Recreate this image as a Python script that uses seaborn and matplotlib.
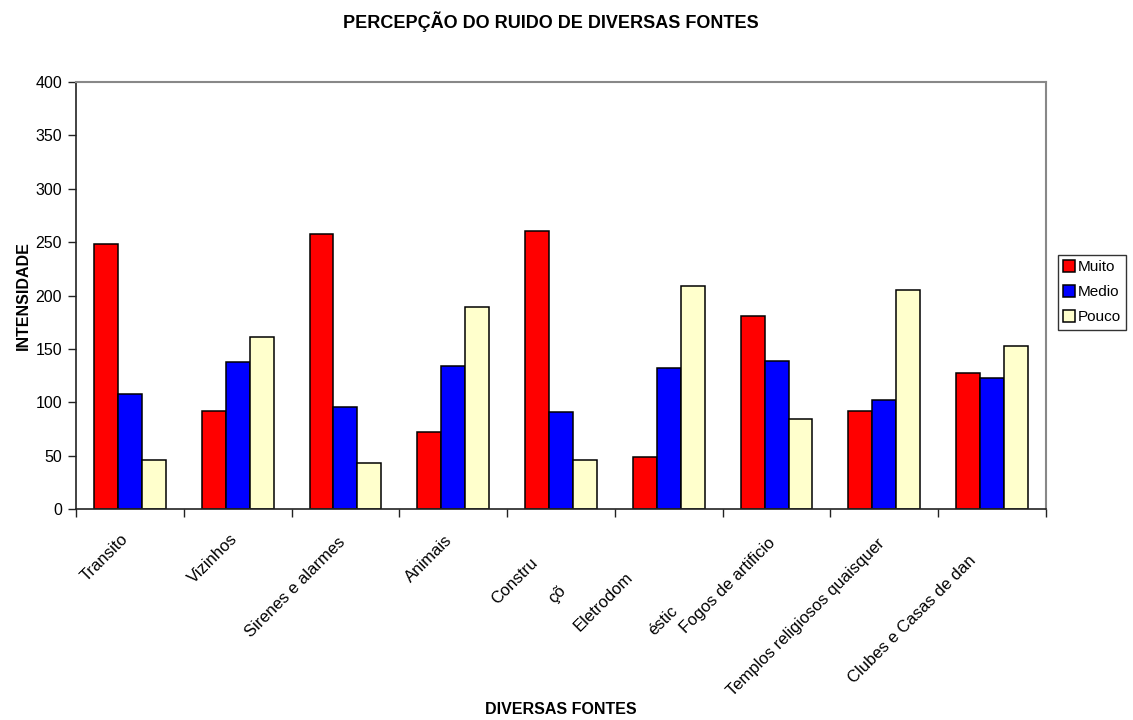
import matplotlib
matplotlib.use("Agg")
import matplotlib.pyplot as plt
import seaborn as sns
import pandas as pd

# Noise sources and perceived intensity per level
fontes = ["Transito", "Vizinhos", "Sirenes e alarmes", "Animais", "Construções",
          "Eletrodomésticos", "Fogos de artificio", "Templos religiosos quaisquer",
          "Clubes e Casas de dança"]
muito = [248, 92, 258, 72, 260, 49, 181, 92, 127]
medio = [108, 138, 96, 134, 91, 132, 139, 102, 123]
pouco = [46, 161, 43, 189, 46, 209, 84, 205, 153]
niveis = ["Muito", "Medio", "Pouco"]

# Axis tick labels as they are printed under each group (pieces of text per group)
rotulos = [["Transito"], ["Vizinhos"], ["Sirenes e alarmes"], ["Animais"],
           ["Constru", "çõ"], ["Eletrodom", "éstic"], ["Fogos de artificio"],
           ["Templos religiosos quaisquer"], ["Clubes e Casas de dan"]]
y_ticks = [0, 50, 100, 150, 200, 250, 300, 350, 400]

df = pd.DataFrame({
    "fonte": fontes * 3,
    "nivel": [n for n in niveis for _ in fontes],
    "valor": muito + medio + pouco,
})

sns.set_theme(style="white")
plt.rcParams["font.family"] = ["Liberation Sans", "DejaVu Sans"]
plt.rcParams["text.color"] = "black"
plt.rcParams["axes.labelcolor"] = "black"
plt.rcParams["xtick.color"] = "black"
plt.rcParams["ytick.color"] = "black"

W, H = 1133, 720
fig = plt.figure(figsize=(W / 100, H / 100), dpi=100)
ax = fig.add_axes([76 / W, 1 - 509 / H, 970 / W, 427 / H])

palette = {"Muito": "#FF0000", "Medio": "#0000FF", "Pouco": "#FFFFCC"}
sns.barplot(data=df, x="fonte", y="valor", hue="nivel", order=fontes,
            hue_order=niveis, palette=palette, width=0.667, gap=0,
            edgecolor="black", linewidth=1.1, saturation=1, ax=ax)

ax.set_xlim(-0.5, len(fontes) - 0.5)
ax.set_ylim(0, 400)
ax.set_yticks(y_ticks)
ax.set_yticklabels([str(v) for v in y_ticks], fontsize=11.5, color="black")

# category ticks sit on the group boundaries
ax.set_xticks([i - 0.5 for i in range(len(fontes) + 1)])
ax.set_xticklabels([])
ax.tick_params(axis="both", which="major", direction="out", length=6,
               width=1, color="#222222", left=True, bottom=True, pad=4)

for side in ["left", "bottom"]:
    ax.spines[side].set_color("#222222")
    ax.spines[side].set_linewidth(1.2)
for side in ["top", "right"]:
    ax.spines[side].set_color("#888888")
    ax.spines[side].set_linewidth(1.5)

# rotated category labels (offsets in pixels from the group centre at the axis)
offsets = [[(-9, -22)], [(-8, -22)], [(-8, -25)], [(-9, -24)],
           [(-31, -46), (-3, -74)], [(-44, -61), (1, -94)],
           [(-9, -26)], [(-7, -27)], [(-24, -44)]]
for i, (pecas, offs) in enumerate(zip(rotulos, offsets)):
    for txt, (dx, dy) in zip(pecas, offs):
        ax.annotate(txt, xy=(i, 0), xycoords=("data", "axes fraction"),
                    xytext=(dx, dy), textcoords="offset pixels",
                    rotation=45, rotation_mode="anchor", ha="right", va="top",
                    fontsize=12, color="black", annotation_clip=False)

ax.set_xlabel("DIVERSAS FONTES", fontsize=11.5, fontweight="bold", color="black")
ax.xaxis.set_label_coords(0.5, -0.452)
ax.set_ylabel("INTENSIDADE", fontsize=11.5, fontweight="bold", color="black")
ax.yaxis.set_label_coords(-0.047, 0.5)

fig.text(551 / W, 1 - 22 / H, "PERCEPÇÃO DO RUIDO DE DIVERSAS FONTES",
         ha="center", va="center", fontsize=13, fontweight="bold", color="black")

handles, labels = ax.get_legend_handles_labels()
leg = ax.legend(handles, labels, loc="upper left",
                bbox_to_anchor=(1058 / W, 1 - 255 / H),
                bbox_transform=fig.transFigure, borderaxespad=0,
                frameon=True, fancybox=False, edgecolor="black",
                fontsize=11, handlelength=0.75, handleheight=0.75,
                handletextpad=0.2, borderpad=0.35, labelspacing=0.72)
leg.get_frame().set_linewidth(1.0)
for t in leg.get_texts():
    t.set_color("black")

fig.savefig("out.png", dpi=100, facecolor="white")
